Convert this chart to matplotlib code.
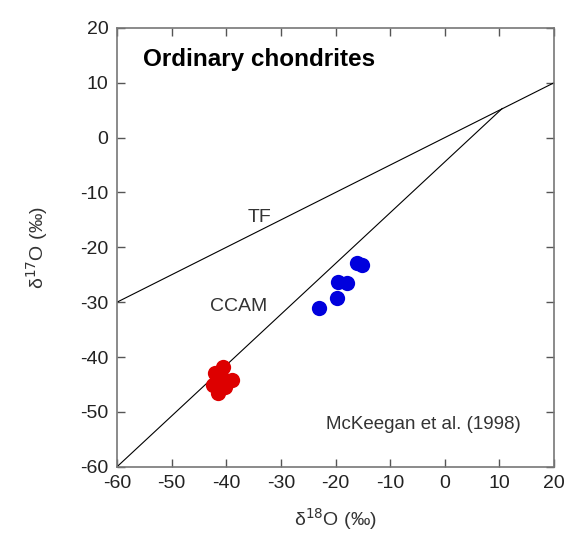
import matplotlib
matplotlib.use("Agg")
import matplotlib.pyplot as plt

plt.rcParams["font.family"] = ["Liberation Sans", "DejaVu Sans"]
plt.rcParams["axes.unicode_minus"] = False

# data
red_x = [-41.5, -42.1, -40.6, -38.9, -40.2, -42.4, -41.0]
red_y = [-46.5, -42.9, -41.8, -44.1, -45.4, -45.1, -43.5]
blue_x = [-16.1, -15.2, -19.5, -17.9, -19.7, -23.0]
blue_y = [-22.8, -23.2, -26.3, -26.5, -29.2, -31.0]

tf_x = [-60, 20]
tf_y = [-30, 10]
ccam_x = [-60, 10.5]
ccam_y = [-60, 5.3]

ticks = [-60, -50, -40, -30, -20, -10, 0, 10, 20]

fig = plt.figure(figsize=(5.79, 5.46), dpi=100)
ax = fig.add_axes([0.202, 0.145, 0.755, 0.804])

ax.plot(tf_x, tf_y, color="black", lw=0.8)
ax.plot(ccam_x, ccam_y, color="black", lw=0.8)
ax.plot(red_x, red_y, "o", color="#dd0000", ms=11, mec="none")
ax.plot(blue_x, blue_y, "o", color="#0000dd", ms=11, mec="none")

ax.set_xlim(-60, 20)
ax.set_ylim(-60, 20)
ax.set_xticks(ticks)
ax.set_yticks(ticks)
ax.tick_params(direction="in", top=True, right=True, length=6, width=1,
               color="#555555", labelsize=14, labelcolor="#222222", pad=6)
for s in ax.spines.values():
    s.set_color("#777777")
    s.set_linewidth(1.2)

ax.set_xlabel("δ$^{18}$O (‰)", fontsize=14, color="#333333", labelpad=10)
ax.set_ylabel("δ$^{17}$O (‰)", fontsize=14, color="#333333", labelpad=22)

ax.text(-55.2, 14.2, "Ordinary chondrites", fontsize=17.5, fontweight="bold",
        va="center")
ax.text(-34, -14.5, "TF", fontsize=14, color="#333333", ha="center",
        va="center")
ax.text(-37.8, -30.8, "CCAM", fontsize=14, color="#333333", ha="center",
        va="center")
ax.text(-4, -52.3, "McKeegan et al. (1998)", fontsize=13.5, color="#333333",
        ha="center", va="center")

fig.savefig("out.png", dpi=100)
